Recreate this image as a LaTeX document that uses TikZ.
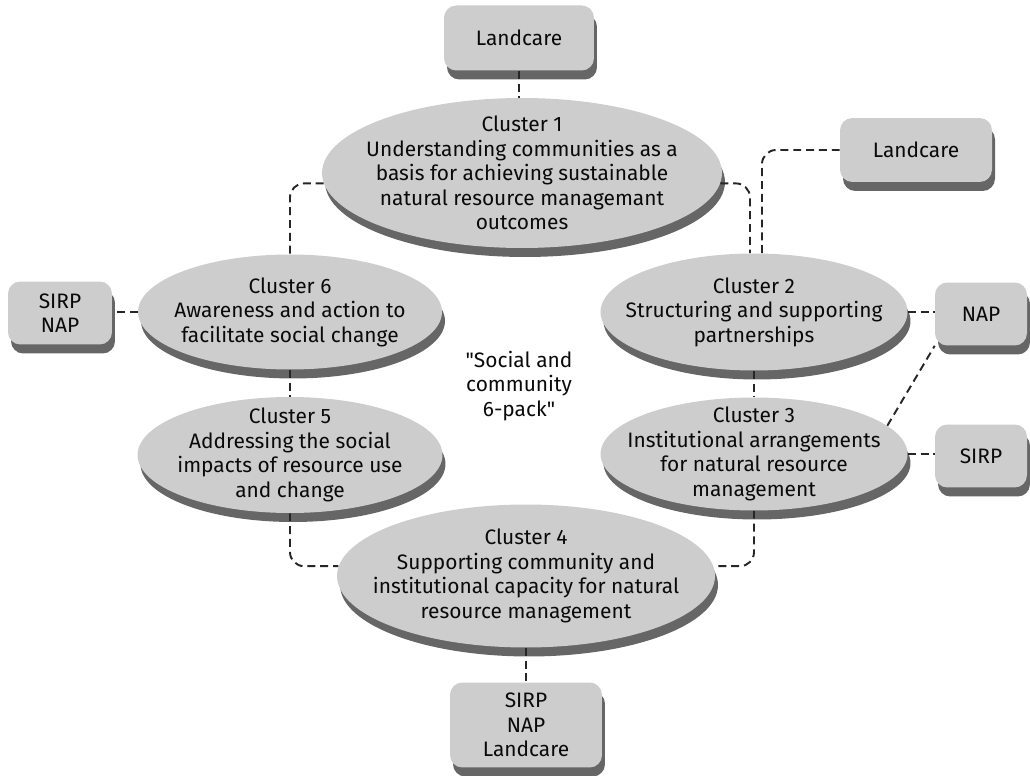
\documentclass[tikz,border=0pt]{standalone}
\usepackage{fontspec}
\setmainfont{Fira Sans}
\usetikzlibrary{shapes.geometric,shadows,calc}
\definecolor{colFill}{RGB}{205,205,205}
\definecolor{colShadow}{RGB}{102,102,102}
\definecolor{colText}{RGB}{10,10,10}
\tikzset{
  cluster/.style = {ellipse, fill=colFill, draw=none, inner sep=0pt,
                    drop shadow={shadow xshift=0.06cm, shadow yshift=-0.18cm,
                                 fill=colShadow, opacity=1}},
  ctext/.style   = {align=center, text=colText, inner sep=0pt,
                    font=\fontsize{11.9}{13.9}\selectfont},
  prog/.style    = {rectangle, rounded corners=7pt, fill=colFill, draw=none,
                    inner sep=0pt, align=center, text=colText,
                    font=\fontsize{11.9}{13.9}\selectfont,
                    drop shadow={shadow xshift=0.06cm, shadow yshift=-0.18cm,
                                 fill=colShadow, opacity=1}},
  link/.style    = {draw=black!85, line width=1.1pt,
                    dash pattern=on 4.5pt off 2.8pt, rounded corners=8pt},
}

\begin{document}
\begin{tikzpicture}[x=0.02cm, y=-0.02cm]
\useasboundingbox (0,0) rectangle (1030,776);

%% ── Clusters ──────────────────────────────────────────────
\node[cluster, minimum width=8cm, minimum height=3cm,
  label={[ctext]center:{Cluster 1\\Understanding communities as a\\basis for achieving sustainable\\natural resource managemant\\outcomes}}]
  (c1) at (522,173) {};
\node[cluster, minimum width=6.14cm, minimum height=2.34cm,
  label={[ctext]center:{Cluster 2\\Structuring and supporting\\partnerships}}]
  (c2) at (754,312) {};
\node[cluster, minimum width=6.14cm, minimum height=2.26cm,
  label={[ctext]center:{Cluster 3\\Institutional arrangements\\for natural resource\\management}}]
  (c3) at (754,454) {};
\node[cluster, minimum width=7.56cm, minimum height=2.86cm,
  label={[ctext]center:{Cluster 4\\Supporting community and\\institutional capacity for natural\\resource management}}]
  (c4) at (526,576) {};
\node[cluster, minimum width=6.1cm, minimum height=2.32cm,
  label={[ctext]center:{Cluster 5\\Addressing the social\\impacts of resource use\\and change}}]
  (c5) at (290,455) {};
\node[cluster, minimum width=6.08cm, minimum height=2.3cm,
  label={[ctext]center:{Cluster 6\\Awareness and action to\\facilitate social change}}]
  (c6) at (290,312) {};

\node[ctext] (pack) at (519,386) {\textquotedbl Social and\\community\\6-pack\textquotedbl};

%% ── Programs ──────────────────────────────────────────────
\node[prog, minimum width=3cm, minimum height=1.3cm]     (land1) at (519,38)  {Landcare};
\node[prog, minimum width=3.04cm, minimum height=1.28cm] (land2) at (916,150) {Landcare};
\node[prog, minimum width=1.84cm, minimum height=1.26cm] (nap)   at (981,314) {NAP};
\node[prog, minimum width=1.84cm, minimum height=1.26cm] (sirp)  at (981,456) {SIRP};
\node[prog, minimum width=2.08cm, minimum height=1.26cm] (sn)    at (60,313)  {SIRP\\NAP};
\node[prog, minimum width=3.04cm, minimum height=1.7cm]  (all)   at (526,725) {SIRP\\NAP\\Landcare};

%% ── Links ─────────────────────────────────────────────────
\draw[link] (land1) -- (land1 |- c1.north);
\draw[link] (c1.183) -| (c6.north);
\draw[link] (c1.357) -| ($(c2.north)+(-4,0)$);
\draw[link] (land2.west) -| ($(c2.north)+(8,0)$);
\draw[link] (c6.south) -- (c5.north);
\draw[link] (c2.south) -- (c3.north);
\draw[link] (c2.east) -- (nap.west |- c2.east);
\draw[link] (c3.12) -- (nap.south west);
\draw[link] (c3.east) -- (sirp.west |- c3.east);
\draw[link] (c6.west) -- (sn.east |- c6.west);
\draw[link] (c5.south) |- (c4.177);
\draw[link] (c3.south) |- (c4.3);
\draw[link] (c4.south) -- (all.north);

\end{tikzpicture}
\end{document}
